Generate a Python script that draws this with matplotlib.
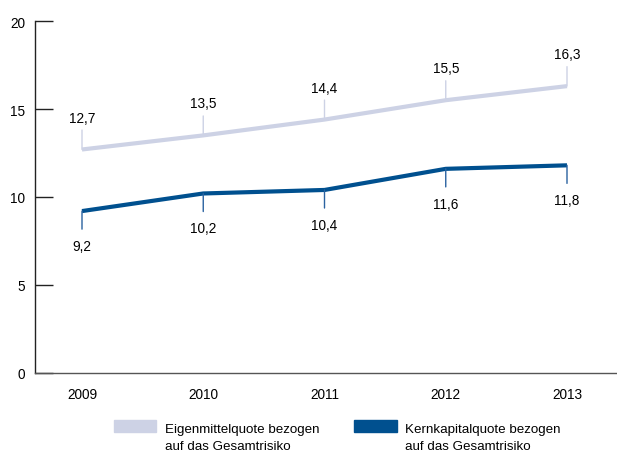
import matplotlib
matplotlib.use("Agg")
import matplotlib.pyplot as plt
from matplotlib.patches import Rectangle

years = [2009, 2010, 2011, 2012, 2013]
eigenmittel = [12.7, 13.5, 14.4, 15.5, 16.3]
kernkapital = [9.2, 10.2, 10.4, 11.6, 11.8]
label_eigen = "Eigenmittelquote bezogen\nauf das Gesamtrisiko"
label_kern = "Kernkapitalquote bezogen\nauf das Gesamtrisiko"
yticks = [0, 5, 10, 15, 20]

LIGHT = "#cdd2e5"
DARK = "#00508f"

plt.rcParams["font.family"] = ["Liberation Sans", "DejaVu Sans"]
plt.rcParams["font.size"] = 9.8

fig = plt.figure(figsize=(6.17, 4.52), dpi=100)
ax = fig.add_axes([35 / 617, 1 - 374 / 452, 1 - 35 / 617, (374 - 22) / 452])

ax.plot(years, eigenmittel, color=LIGHT, lw=3.0, solid_capstyle="butt", zorder=3)
ax.plot(years, kernkapital, color=DARK, lw=3.0, solid_capstyle="butt", zorder=3)

# value labels with small leader lines
for x, v in zip(years, eigenmittel):
    ax.annotate("", xy=(x, v), xytext=(0, 14), textcoords="offset points",
                arrowprops=dict(arrowstyle="-", color=LIGHT, lw=1.0,
                                shrinkA=0, shrinkB=0))
    ax.annotate(f"{v:.1f}".replace(".", ","), xy=(x, v), xytext=(0, 23),
                textcoords="offset points", ha="center", va="center")
for x, v in zip(years, kernkapital):
    ax.annotate("", xy=(x, v), xytext=(0, -13), textcoords="offset points",
                arrowprops=dict(arrowstyle="-", color="#2a62a0", lw=1.0,
                                shrinkA=0, shrinkB=0))
    ax.annotate(f"{v:.1f}".replace(".", ","), xy=(x, v), xytext=(0, -25),
                textcoords="offset points", ha="center", va="center")

ax.set_xlim(2009 - 47 / 121.25, 2013 + 50 / 121.25)
ax.set_ylim(0, 20)
ax.set_yticks(yticks)
ax.set_xticks(years)
ax.set_xticklabels([str(y) for y in years])
ax.tick_params(axis="y", direction="in", length=13, width=1.0, color="#222222", pad=7)
ax.tick_params(axis="x", length=0, pad=10)
for s in ["top", "right"]:
    ax.spines[s].set_visible(False)
ax.spines["left"].set_color("#222222")
ax.spines["bottom"].set_color("#555555")
ax.spines["left"].set_linewidth(1.0)
ax.spines["bottom"].set_linewidth(1.0)

# legend drawn by hand so the swatch sits on the first text line
fig.patches.append(Rectangle((114 / 617, 1 - 433 / 452), 42 / 617, 12 / 452,
                             transform=fig.transFigure, color=LIGHT))
fig.text(165 / 617, 1 - 450 / 452, label_eigen, ha="left", va="baseline",
         fontsize=9.6, linespacing=1.57)
fig.patches.append(Rectangle((354 / 617, 1 - 433 / 452), 43 / 617, 12 / 452,
                             transform=fig.transFigure, color=DARK))
fig.text(405 / 617, 1 - 450 / 452, label_kern, ha="left", va="baseline",
         fontsize=9.6, linespacing=1.57)

fig.savefig("out.png", dpi=100, facecolor="white")
